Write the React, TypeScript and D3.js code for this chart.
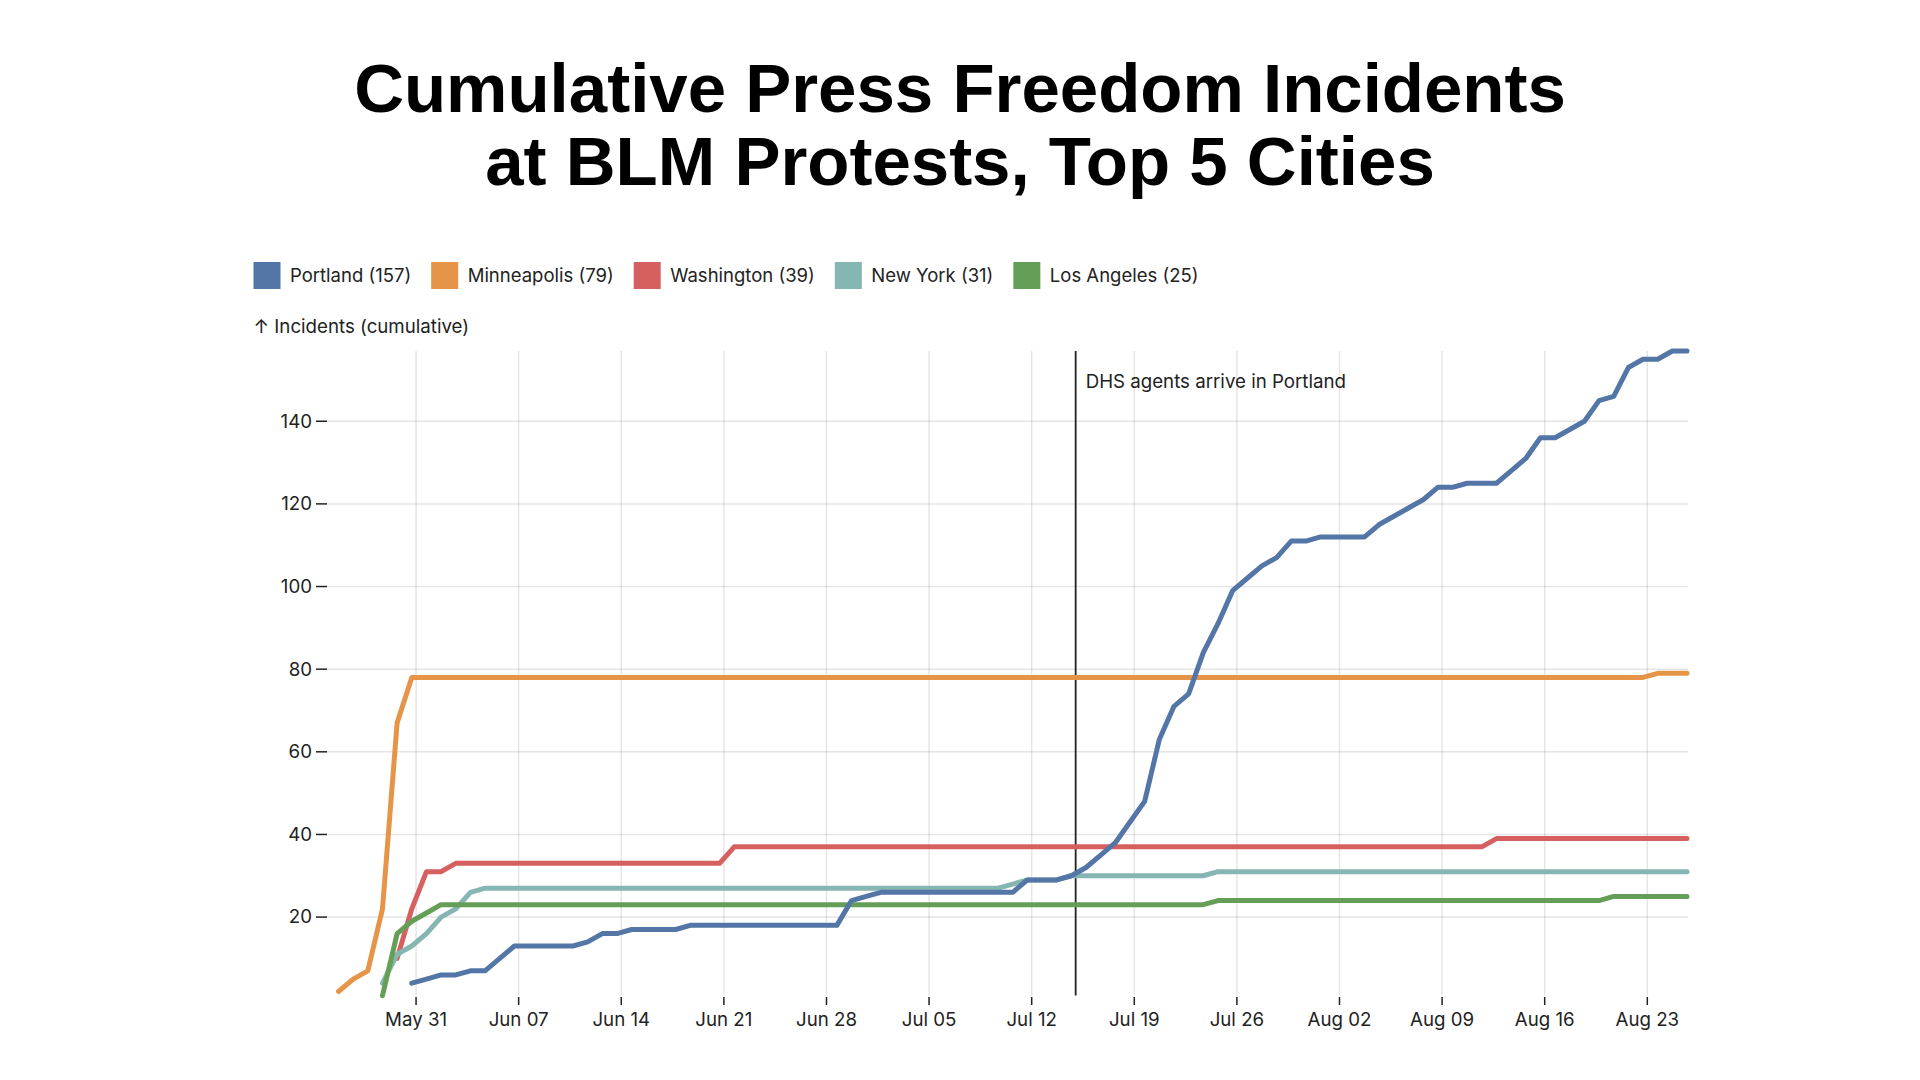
import React from "react";
import * as d3 from "d3";

// ---------- DATA ----------
const cities = ["Portland", "Minneapolis", "Washington", "New York", "Los Angeles"];
const startDates = ["2020-05-31", "2020-05-26", "2020-05-30", "2020-05-29", "2020-05-29"];

// daily cumulative incidents, one value per day from the city's start date to Aug 26
const portland = [
  4, 5, 6, 6, 7, 7, 10, 13, 13, 13,
  13, 13, 14, 16, 16, 17, 17, 17, 17, 18,
  18, 18, 18, 18, 18, 18, 18, 18, 18, 18,
  24, 25, 26, 26, 26, 26, 26, 26, 26, 26,
  26, 26, 29, 29, 29, 30, 32, 35, 38, 43,
  48, 63, 71, 74, 84, 91, 99, 102, 105, 107,
  111, 111, 112, 112, 112, 112, 115, 117, 119, 121,
  124, 124, 125, 125, 125, 128, 131, 136, 136, 138,
  140, 145, 146, 153, 155, 155, 157, 157,
];
const minneapolis = [
  2, 5, 7, 22, 67, 78, 78, 78, 78, 78,
  78, 78, 78, 78, 78, 78, 78, 78, 78, 78,
  78, 78, 78, 78, 78, 78, 78, 78, 78, 78,
  78, 78, 78, 78, 78, 78, 78, 78, 78, 78,
  78, 78, 78, 78, 78, 78, 78, 78, 78, 78,
  78, 78, 78, 78, 78, 78, 78, 78, 78, 78,
  78, 78, 78, 78, 78, 78, 78, 78, 78, 78,
  78, 78, 78, 78, 78, 78, 78, 78, 78, 78,
  78, 78, 78, 78, 78, 78, 78, 78, 78, 78,
  79, 79, 79,
];
const washington = [
  10, 22, 31, 31, 33, 33, 33, 33, 33, 33,
  33, 33, 33, 33, 33, 33, 33, 33, 33, 33,
  33, 33, 33, 37, 37, 37, 37, 37, 37, 37,
  37, 37, 37, 37, 37, 37, 37, 37, 37, 37,
  37, 37, 37, 37, 37, 37, 37, 37, 37, 37,
  37, 37, 37, 37, 37, 37, 37, 37, 37, 37,
  37, 37, 37, 37, 37, 37, 37, 37, 37, 37,
  37, 37, 37, 37, 37, 39, 39, 39, 39, 39,
  39, 39, 39, 39, 39, 39, 39, 39, 39,
];
const newYork = [
  4, 11, 13, 16, 20, 22, 26, 27, 27, 27,
  27, 27, 27, 27, 27, 27, 27, 27, 27, 27,
  27, 27, 27, 27, 27, 27, 27, 27, 27, 27,
  27, 27, 27, 27, 27, 27, 27, 27, 27, 27,
  27, 27, 27, 28, 29, 29, 29, 30, 30, 30,
  30, 30, 30, 30, 30, 30, 30, 31, 31, 31,
  31, 31, 31, 31, 31, 31, 31, 31, 31, 31,
  31, 31, 31, 31, 31, 31, 31, 31, 31, 31,
  31, 31, 31, 31, 31, 31, 31, 31, 31, 31,
];
const losAngeles = [
  1, 16, 19, 21, 23, 23, 23, 23, 23, 23,
  23, 23, 23, 23, 23, 23, 23, 23, 23, 23,
  23, 23, 23, 23, 23, 23, 23, 23, 23, 23,
  23, 23, 23, 23, 23, 23, 23, 23, 23, 23,
  23, 23, 23, 23, 23, 23, 23, 23, 23, 23,
  23, 23, 23, 23, 23, 23, 23, 24, 24, 24,
  24, 24, 24, 24, 24, 24, 24, 24, 24, 24,
  24, 24, 24, 24, 24, 24, 24, 24, 24, 24,
  24, 24, 24, 24, 25, 25, 25, 25, 25, 25,
];
const seriesValues = [portland, minneapolis, washington, newYork, losAngeles];

const yTicks = [20, 40, 60, 80, 100, 120, 140];
const yLabel = "↑ Incidents (cumulative)";
const titleLines = ["Cumulative Press Freedom Incidents", "at BLM Protests, Top 5 Cities"];
const annotationDate = "2020-07-15";
const annotationText = "DHS agents arrive in Portland";

// ---------- STYLE ----------
const COLORS = ["#5376a6", "#e69548", "#d66060", "#86b6b2", "#659f57"];
const FONT = "Inter, 'Noto Sans', sans-serif";
const TICK_FONT_SIZE = 18.7;
const LEGEND_FONT_SIZE = 18.5;
const LOCAL_OFFSET_HOURS = 7; // ticks & rule sit on Pacific midnight

type Pt = { date: Date; value: number };

const parse = d3.utcParse("%Y-%m-%d");

function measure(text: string, font: string): number {
  const ctx = document.createElement("canvas").getContext("2d");
  if (!ctx) return text.length * 9;
  ctx.font = font;
  return ctx.measureText(text).width;
}

export default function App() {
  const series = cities.map((name, i) => ({
    name,
    color: COLORS[i],
    points: seriesValues[i].map((v, j) => ({
      date: d3.utcDay.offset(parse(startDates[i]) as Date, j),
      value: v,
    })) as Pt[],
  }));

  const allPts = series.flatMap((s) => s.points);
  const xDomain = d3.extent(allPts, (d) => d.date) as [Date, Date];
  const yDomain = d3.extent(allPts, (d) => d.value) as [number, number];

  const frameLeft = 327;
  const frameRight = 1688;
  const frameTop = 351;
  const frameBottom = 995.6;

  const x = d3.scaleUtc().domain(xDomain).range([338.5, 1687]);
  const y = d3.scaleLinear().domain(yDomain).range([frameBottom, frameTop]);

  const xTicks = d3.utcSunday.range(xDomain[0], xDomain[1]);
  const fmt = d3.utcFormat("%b %d");
  const localX = (d: Date) => x(d3.utcHour.offset(d, LOCAL_OFFSET_HOURS));

  const line = d3
    .line<Pt>()
    .x((d) => x(d.date))
    .y((d) => y(d.value));

  // legend flow layout
  const legendFont = `${LEGEND_FONT_SIZE}px ${FONT}`;
  let lx = 253.5;
  const legendItems = series.map((s) => {
    const label = `${s.name} (${s.points[s.points.length - 1].value})`;
    const item = { x: lx, label, color: s.color };
    lx += 27 + 9.5 + measure(label, legendFont) + 20;
    return item;
  });

  const drawOrder = [1, 2, 3, 4, 0];
  const ruleX = localX(parse(annotationDate) as Date);

  return (
    <svg
      width={1920}
      height={1080}
      style={{ position: "absolute", left: 0, top: 0, background: "#fff" }}
      fontFamily={FONT}
    >
      <rect x={0} y={0} width={1920} height={1080} fill="#fff" />

      {/* title */}
      {titleLines.map((t, i) => (
        <text
          key={i}
          x={960}
          y={112 + i * 73}
          textAnchor="middle"
          fontFamily="'Liberation Sans', Arial, Helvetica, sans-serif"
          fontWeight={700}
          fontSize={69}
          fill="#000"
        >
          {t}
        </text>
      ))}

      {/* legend */}
      {legendItems.map((it) => (
        <g key={it.label}>
          <rect x={it.x} y={262} width={27} height={27} fill={it.color} />
          <text x={it.x + 27 + 9.5} y={282} fontSize={LEGEND_FONT_SIZE} fill="#222">
            {it.label}
          </text>
        </g>
      ))}

      {/* y label */}
      <text x={253.5} y={333} fontSize={TICK_FONT_SIZE} fill="#222">
        {yLabel}
      </text>

      {/* grid */}
      <g stroke="#000" strokeOpacity={0.1} strokeWidth={1.5}>
        {yTicks.map((t) => (
          <line key={"gy" + t} x1={frameLeft} x2={frameRight} y1={y(t)} y2={y(t)} />
        ))}
        {xTicks.map((t) => (
          <line
            key={"gx" + t.getTime()}
            x1={localX(t)}
            x2={localX(t)}
            y1={frameTop}
            y2={frameBottom}
          />
        ))}
      </g>

      {/* y axis */}
      <g>
        {yTicks.map((t) => (
          <g key={"yt" + t}>
            <line x1={316} x2={frameLeft} y1={y(t)} y2={y(t)} stroke="#222" strokeWidth={1.5} />
            <text
              x={312}
              y={y(t)}
              dy="0.34em"
              textAnchor="end"
              fontSize={TICK_FONT_SIZE}
              fill="#222"
            >
              {t}
            </text>
          </g>
        ))}
      </g>

      {/* x axis */}
      <g>
        {xTicks.map((t) => (
          <g key={"xt" + t.getTime()}>
            <line
              x1={localX(t)}
              x2={localX(t)}
              y1={997}
              y2={1005}
              stroke="#222"
              strokeWidth={1.5}
            />
            <text x={localX(t)} y={1026} textAnchor="middle" fontSize={TICK_FONT_SIZE} fill="#222">
              {fmt(t)}
            </text>
          </g>
        ))}
      </g>

      {/* annotation rule */}
      <line x1={ruleX} x2={ruleX} y1={frameTop} y2={frameBottom} stroke="#222" strokeWidth={1.8} />
      <text x={ruleX + 10} y={388} fontSize={TICK_FONT_SIZE} fill="#222">
        {annotationText}
      </text>

      {/* lines */}
      {drawOrder.map((i) => (
        <path
          key={series[i].name}
          d={line(series[i].points) || ""}
          fill="none"
          stroke={series[i].color}
          strokeWidth={5}
          strokeLinejoin="round"
          strokeLinecap="round"
        />
      ))}
    </svg>
  );
}
